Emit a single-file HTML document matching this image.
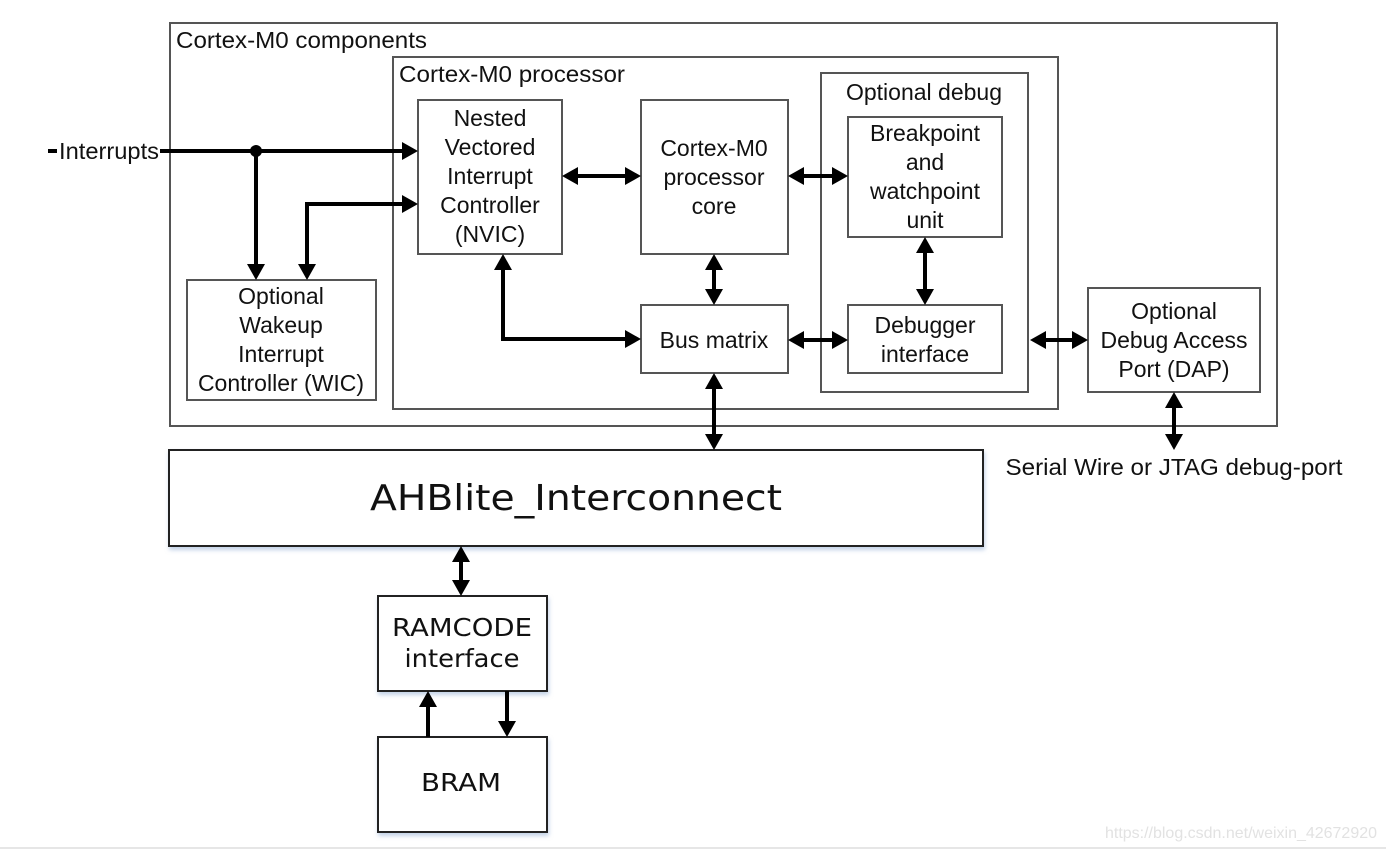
<!DOCTYPE html>
<html><head><meta charset="utf-8"><style>
html,body{margin:0;padding:0;background:#fff;}
svg{display:block;}
text{font-family:"Liberation Sans",Arial,sans-serif;fill:#111;}
.c{font-family:"DejaVu Sans","Liberation Sans",sans-serif;}
</style></head><body>
<svg width="1386" height="850" viewBox="0 0 1386 850" xmlns="http://www.w3.org/2000/svg">
<defs>
<marker id="a" markerUnits="userSpaceOnUse" markerWidth="18" markerHeight="20" refX="2" refY="10" orient="auto-start-reverse" viewBox="0 0 18 20">
<path d="M0,1 L16,10 L0,19 z" fill="#000"/>
</marker>
<filter id="sh" x="-5%" y="-5%" width="110%" height="120%"><feDropShadow dx="1" dy="3" stdDeviation="2" flood-color="#9bb4d8" flood-opacity="0.6"/></filter>
</defs>
<g fill="none" stroke="#555" stroke-width="2">
<rect x="170" y="23" width="1107" height="403"/>
<rect x="393" y="57" width="665" height="352"/>
<rect x="418" y="100" width="144" height="154"/>
<rect x="641" y="100" width="147" height="154"/>
<rect x="821" y="73" width="207" height="319"/>
<rect x="848" y="117" width="154" height="120"/>
<rect x="848" y="305" width="154" height="68"/>
<rect x="641" y="305" width="147" height="68"/>
<rect x="1088" y="288" width="172" height="104"/>
<rect x="187" y="280" width="189" height="120"/>
</g>
<g fill="#fff" stroke="#222" stroke-width="2" filter="url(#sh)">
<rect x="169" y="450" width="814" height="96"/>
<rect x="378" y="596" width="169" height="95"/>
<rect x="378" y="737" width="169" height="95"/>
</g>
<line x1="0" y1="848" x2="1386" y2="848" stroke="#e6e6e6" stroke-width="2"/>
<g stroke="#000" stroke-width="4" fill="none">
<line x1="48" y1="151" x2="57" y2="151"/>
<line x1="160" y1="151" x2="404" y2="151" marker-end="url(#a)"/>
<line x1="256" y1="151" x2="256" y2="266" marker-end="url(#a)"/>
<polyline points="404,204 307,204 307,266" marker-end="url(#a)" marker-start="url(#a)"/>
<line x1="576" y1="176" x2="627" y2="176" marker-start="url(#a)" marker-end="url(#a)"/>
<polyline points="503,268 503,339 627,339" marker-start="url(#a)" marker-end="url(#a)"/>
<line x1="714" y1="268" x2="714" y2="291" marker-start="url(#a)" marker-end="url(#a)"/>
<line x1="802" y1="176" x2="834" y2="176" marker-start="url(#a)" marker-end="url(#a)"/>
<line x1="802" y1="340" x2="834" y2="340" marker-start="url(#a)" marker-end="url(#a)"/>
<line x1="925" y1="251" x2="925" y2="291" marker-start="url(#a)" marker-end="url(#a)"/>
<line x1="1044" y1="340" x2="1074" y2="340" marker-start="url(#a)" marker-end="url(#a)"/>
<line x1="714" y1="387" x2="714" y2="436" marker-start="url(#a)" marker-end="url(#a)"/>
<line x1="1174" y1="406" x2="1174" y2="436" marker-start="url(#a)" marker-end="url(#a)"/>
<line x1="461" y1="560" x2="461" y2="582" marker-start="url(#a)" marker-end="url(#a)"/>
<line x1="428" y1="737" x2="428" y2="705" marker-end="url(#a)"/>
<line x1="507" y1="691" x2="507" y2="723" marker-end="url(#a)"/>
</g>
<circle cx="256" cy="151" r="6" fill="#000"/>
<g font-size="23">
<text x="176" y="48" textLength="251" lengthAdjust="spacingAndGlyphs">Cortex-M0 components</text>
<text x="399" y="82" textLength="226" lengthAdjust="spacingAndGlyphs">Cortex-M0 processor</text>
<text x="59" y="159" textLength="100" lengthAdjust="spacingAndGlyphs">Interrupts</text>
<g text-anchor="middle">
<text x="490" y="126">Nested</text><text x="490" y="155">Vectored</text><text x="490" y="184">Interrupt</text><text x="490" y="213">Controller</text><text x="490" y="242">(NVIC)</text>
<text x="714" y="156">Cortex-M0</text><text x="714" y="185">processor</text><text x="714" y="214">core</text>
<text x="924" y="100">Optional debug</text>
<text x="925" y="141">Breakpoint</text><text x="925" y="170">and</text><text x="925" y="199">watchpoint</text><text x="925" y="228">unit</text>
<text x="925" y="333">Debugger</text><text x="925" y="362">interface</text>
<text x="714" y="348">Bus matrix</text>
<text x="1174" y="319">Optional</text><text x="1174" y="348">Debug Access</text><text x="1174" y="377">Port (DAP)</text>
<text x="281" y="304">Optional</text><text x="281" y="333">Wakeup</text><text x="281" y="362">Interrupt</text><text x="281" y="391">Controller (WIC)</text>
<text x="1174" y="475" textLength="337" lengthAdjust="spacingAndGlyphs">Serial Wire or JTAG debug-port</text>
<text class="c" x="576" y="510" font-size="36" textLength="412" lengthAdjust="spacingAndGlyphs">AHBlite_Interconnect</text>
<text class="c" x="462" y="636" font-size="25" textLength="140" lengthAdjust="spacingAndGlyphs">RAMCODE</text>
<text class="c" x="462" y="667" font-size="25" textLength="115" lengthAdjust="spacingAndGlyphs">interface</text>
<text class="c" x="461" y="791" font-size="25" textLength="80" lengthAdjust="spacingAndGlyphs">BRAM</text>
</g>
<text x="1105" y="838" font-size="16" textLength="272" lengthAdjust="spacingAndGlyphs" style="fill:#e2e2e2">https://blog.csdn.net/weixin_42672920</text>
</g>
</svg>
</body></html>
